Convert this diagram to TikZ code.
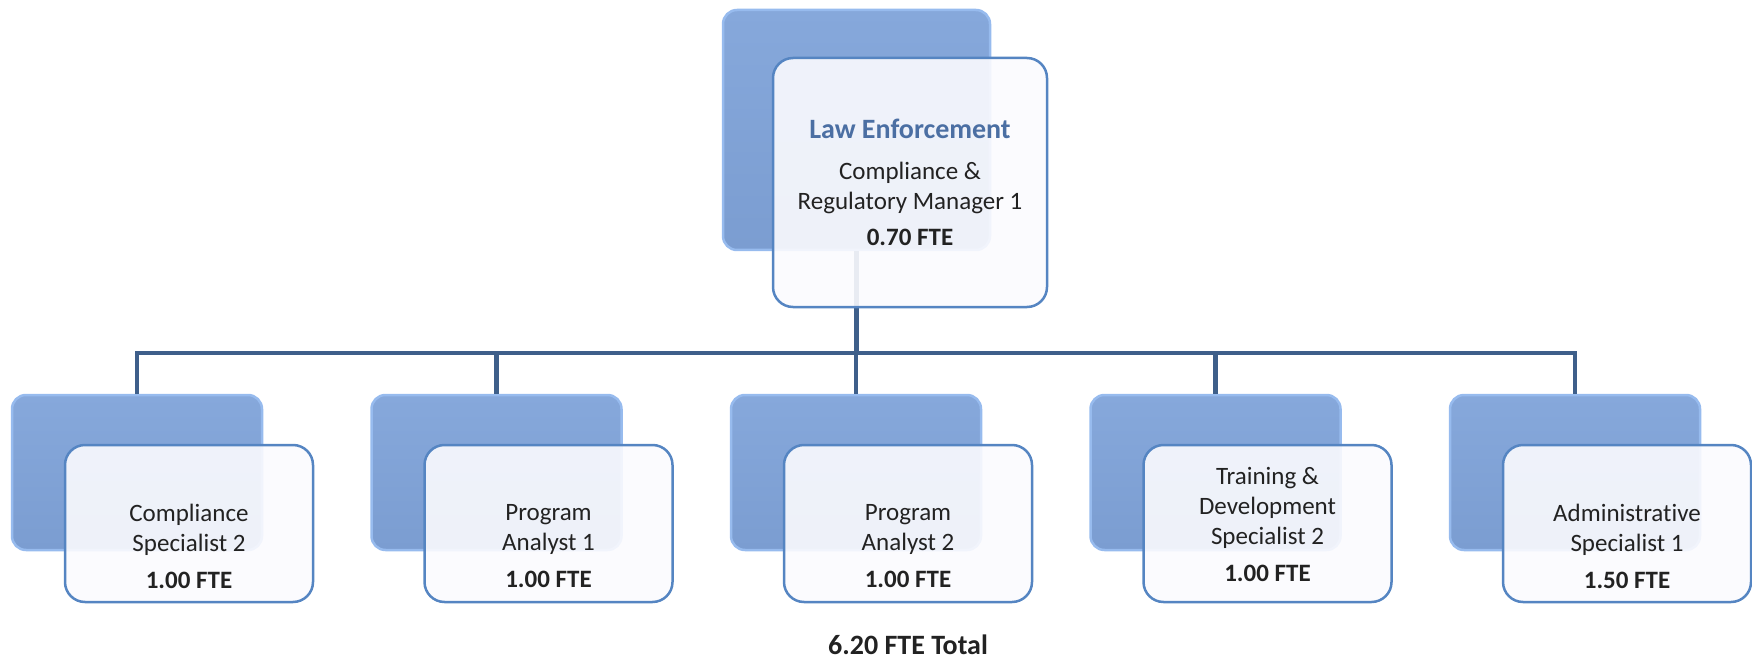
\documentclass[tikz,border=0pt]{standalone}
\usepackage{fontspec}
\setmainfont[Ligatures=NoCommon]{Carlito}
\definecolor{backtop}{HTML}{86A8DB}
\definecolor{backbot}{HTML}{7B9DD1}
\definecolor{backedge}{HTML}{97BBEE}
\definecolor{frontfill}{HTML}{FBFBFE}
\definecolor{frontedge}{HTML}{5585C2}
\definecolor{connblue}{HTML}{3E5F8A}
\definecolor{titleblue}{HTML}{4B6FA3}
\definecolor{textgray}{HTML}{222222}
\begin{document}
\begin{tikzpicture}[x=1pt, y=-1pt,
  backbox/.style={rounded corners=14pt, top color=backtop, bottom color=backbot, draw=backedge, line width=2.5pt},
  frontbox/.style={rounded corners=20pt, fill=frontfill, fill opacity=0.9, text opacity=1, draw=frontedge, line width=2.5pt},
  conn/.style={draw=connblue, line width=4.5pt},
  role/.style={align=center, text=textgray, font=\fontsize{25}{30}\selectfont}]

\useasboundingbox (0,0) rectangle (1752,660);

% Top box: manager
\node (mgr-back) [backbox, minimum width=267, minimum height=240] at (856.5,130) {};
\coordinate (bar) at (856.5,353);
\draw[conn] (mgr-back.south) -- (bar);
\node (mgr) [frontbox, role, minimum width=274, minimum height=249] at (910,182.5)
  {{\fontsize{28}{34}\selectfont\bfseries\color{titleblue}Law Enforcement}\\[11pt]
   Compliance \&\\Regulatory Manager 1\\[6pt]\textbf{0.70 FTE}};

% Bottom boxes: staff
\foreach \n/\x/\ty/\txt/\fte in {
  cs/12/546/{Compliance\\Specialist 2}/1.00,
  pa1/371.5/546/{Program\\Analyst 1}/1.00,
  pa2/731/546/{Program\\Analyst 2}/1.00,
  td/1090.5/524/{Training \&\\Development\\Specialist 2}/1.00,
  as/1450/546/{Administrative\\Specialist 1}/1.50}
{
  \node (\n-back) [backbox, minimum width=250, minimum height=155] at (\x+125,472.5) {};
  \draw[conn] (bar) -| (\n-back.north);
  \node (\n) [frontbox, minimum width=248, minimum height=157] at (\x+177,523.5) {};
  \node (\n-text) [role] at (\x+177,\ty) {\txt\\[7pt]\textbf{\fte\ FTE}};
}

% Total
\node (total) [text=textgray, font=\fontsize{28}{34}\selectfont\bfseries] at (908,645) {6.20 FTE Total};

\end{tikzpicture}
\end{document}
